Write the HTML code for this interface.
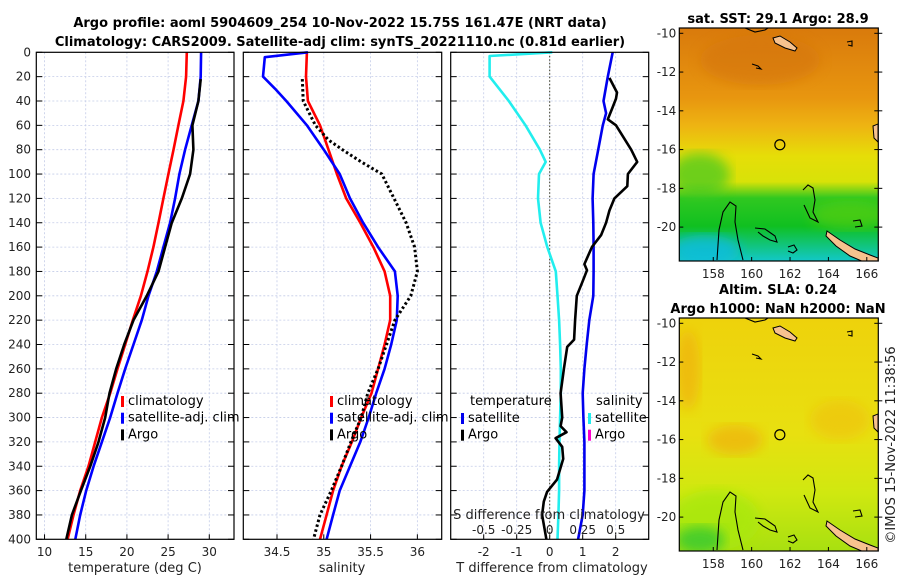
<!DOCTYPE html>
<html><head><meta charset="utf-8"><style>
html,body{margin:0;padding:0;background:#fff;}
svg{display:block;font-family:"DejaVu Sans","Liberation Sans",sans-serif;}
</style></head><body>
<svg id="fig" width="900" height="580" viewBox="0 0 900 580" xmlns="http://www.w3.org/2000/svg">
<defs>
<linearGradient id="sstGrad" x1="0" y1="0" x2="0" y2="1">
<stop offset="0" stop-color="#d97a0c"/><stop offset="0.3" stop-color="#e8960f"/><stop offset="0.42" stop-color="#eeb412"/>
<stop offset="0.55" stop-color="#e6de08"/><stop offset="0.66" stop-color="#d8e208"/><stop offset="0.73" stop-color="#30c820"/>
<stop offset="0.85" stop-color="#10c020"/><stop offset="1" stop-color="#12c8c8"/></linearGradient>
<linearGradient id="slaGrad" x1="0" y1="0" x2="0" y2="1">
<stop offset="0" stop-color="#eed20c"/><stop offset="0.5" stop-color="#e8e010"/><stop offset="0.75" stop-color="#d0e810"/><stop offset="1" stop-color="#a8e010"/></linearGradient>
<filter id="blur6"><feGaussianBlur stdDeviation="6"/></filter>
<clipPath id="c1"><rect x="679" y="28" width="199" height="233"/></clipPath>
<clipPath id="c2"><rect x="679" y="318" width="199" height="233"/></clipPath>
</defs>
<g id="panels"></g>
<text x="340" y="27" font-size="13" font-weight="bold" text-anchor="middle">Argo profile: aoml 5904609_254 10-Nov-2022 15.75S 161.47E (NRT data)</text>
<text x="340" y="46" font-size="13" font-weight="bold" text-anchor="middle">Climatology: CARS2009. Satellite-adj clim: synTS_20221110.nc (0.81d earlier)</text>
<g id="maps"></g>
<text x="778" y="23" font-size="13" font-weight="bold" text-anchor="middle">sat. SST: 29.1 Argo: 28.9</text>
<text x="778" y="294" font-size="13" font-weight="bold" text-anchor="middle">Altim. SLA: 0.24</text>
<text x="778" y="313" font-size="13" font-weight="bold" text-anchor="middle">Argo h1000: NaN h2000: NaN</text>
<text transform="translate(895,445) rotate(-90)" font-size="13" text-anchor="middle" fill="#222">©IMOS 15-Nov-2022 11:38:56</text>
</svg>
<script>
// ---------- data ----------
const depthStd = [0,20,40,60,80,100,120,140,160,180,200,220,240,260,280,300,320,340,360,380,400];
const tempClim = [27.27,27.18,26.86,26.25,25.65,25.04,24.43,23.83,23.22,22.5,21.7,20.72,19.79,18.86,17.97,16.96,16.15,15.34,14.33,13.52,12.8];
const tempSat = [29.0,28.96,28.68,27.87,27.06,26.37,25.85,25.24,24.43,23.63,22.62,21.81,20.8,19.79,18.86,17.97,16.96,15.95,15.06,14.33,13.73];
const argoDepth = [22,40,60,80,100,120,140,160,180,200,220,240,260,280,300,320,340,360,380,400];
const tempArgo = [28.96,28.68,27.95,28.07,27.67,26.66,25.45,24.64,23.83,22.41,20.8,19.67,18.7,17.89,17.36,16.55,15.55,14.41,13.32,12.64];
const salClim = [34.82,34.81,34.83,34.96,35.05,35.14,35.24,35.39,35.53,35.65,35.71,35.71,35.65,35.58,35.51,35.40,35.30,35.19,35.10,35.03,34.96];
const salSatDepth = [0,4,20,30,40,60,80,100,120,140,160,180,200,220,240,260,280,300,320,340,360,380,400];
const salSat = [34.83,34.37,34.35,34.48,34.6,34.82,35.0,35.17,35.28,35.42,35.58,35.76,35.79,35.78,35.72,35.65,35.56,35.48,35.39,35.28,35.17,35.1,35.03];
const salArgoDepth = [22,40,60,72,80,90,100,120,140,160,180,200,220,240,260,280,300,320,340,360,380,400];
const salArgo = [34.77,34.78,34.91,35.05,35.2,35.4,35.62,35.75,35.88,35.97,36.0,35.93,35.76,35.67,35.58,35.47,35.4,35.29,35.19,35.08,34.96,34.89];
const sDiffDepth = [0,3,20,40,60,80,90,100,120,140,160,180,200,220,240,260,280,300,320,340,360,380,400];
const sDiffSat = [0.02,-0.455,-0.455,-0.31,-0.183,-0.074,-0.03,-0.081,-0.089,-0.069,-0.018,0.046,0.059,0.071,0.079,0.084,0.084,0.079,0.074,0.071,0.071,0.066,0.059];
const tDiffSatDepth = [0,20,40,50,60,80,100,120,140,160,180,200,220,240,260,280,300,320,340,360,380,400];
const tDiffSat = [1.91,1.76,1.63,1.71,1.61,1.47,1.33,1.30,1.32,1.33,1.33,1.32,1.20,1.12,1.05,1.0,1.02,1.05,1.05,1.05,1.0,0.86];
const tDiffArgoDepth = [21,33,38,45,55,60,80,90,100,110,120,130,140,150,160,174,179,188,200,220,236,242,260,280,300,307,312,317,324,334,351,361,369,380,400];
const tDiffArgo = [1.81,2.04,2.01,1.91,1.76,2.01,2.47,2.65,2.37,2.35,1.96,1.81,1.71,1.56,1.28,1.05,1.13,1.0,0.82,0.77,0.74,0.53,0.43,0.33,0.38,0.33,0.51,0.18,0.38,0.41,0.22,-0.08,-0.18,-0.23,-0.10];
const depthTicks = [0,20,40,60,80,100,120,140,160,180,200,220,240,260,280,300,320,340,360,380,400];
const tempTicks = [10,15,20,25,30];
const salTicks = [34.5,35,35.5,36];
const tDiffTicks = [-2,-1,0,1,2];
const sDiffTicks = [-0.5,-0.25,0,0.25,0.5];
const sDiffTickLabels = ["-0.5","-0.25","0","0.25","0.5"];
const latTicks = [-10,-12,-14,-16,-18,-20];
const lonTicks = [158,160,162,164,166];

// ---------- helpers ----------
const NS = "http://www.w3.org/2000/svg";
function mk(tag, attrs, parent){const e=document.createElementNS(NS,tag);for(const k in attrs)e.setAttribute(k,attrs[k]);parent.appendChild(e);return e;}
const Y0=52.3, Y1=539.3;
const yD = d => Y0 + d*(Y1-Y0)/400;
const panels = [
 {x0:36.3,x1:234,min:9,max:33,name:'temperature-panel'},
 {x0:243.3,x1:441.7,min:34.14,max:36.26,name:'salinity-panel'},
 {x0:450.7,x1:648.7,min:-3,max:3,name:'difference-panel'}];
function xS(p,v){return p.x0+(v-p.min)*(p.x1-p.x0)/(p.max-p.min);}
const root = document.getElementById('panels');

function line(g,p,vals,depths,color,w,dash,name){
  const pts = vals.map((v,i)=>xS(p,v).toFixed(1)+','+yD(depths[i]).toFixed(1)).join(' ');
  const pl = mk('polyline',{points:pts,fill:'none',stroke:color,'stroke-width':w,'stroke-linejoin':'round'},g);
  if(dash) pl.setAttribute('stroke-dasharray',dash);
  
  
}
function legend(g,x,y,items){
  items.forEach((it,i)=>{
    const yy=y+i*16.7;
    const m=mk('rect',{x:x,y:yy-9,width:3,height:11,fill:it[1]},g);
    
    
    const t=mk('text',{x:x+7,y:yy,'font-size':13},g);t.textContent=it[0];
    
    
  });
}

panels.forEach((p,pi)=>{
  const g = mk('g',{},root);
  
  
  mk('rect',{x:p.x0,y:Y0,width:p.x1-p.x0,height:Y1-Y0,fill:'#fff'},g);
  const grid = mk('g',{stroke:'#c4cce8','stroke-width':0.8,'stroke-dasharray':'2,2'},g);
  depthTicks.forEach(d=>{ if(d>0&&d<400) mk('line',{x1:p.x0,x2:p.x1,y1:yD(d),y2:yD(d)},grid); });
  const ticks = pi==0?tempTicks:pi==1?salTicks:tDiffTicks;
  ticks.forEach(v=>{ mk('line',{x1:xS(p,v),x2:xS(p,v),y1:Y0,y2:Y1},grid); });
  const tk = mk('g',{stroke:'#000','stroke-width':1},g);
  depthTicks.forEach(d=>{ mk('line',{x1:p.x0,x2:p.x0+6,y1:yD(d),y2:yD(d)},tk); mk('line',{x1:p.x1-6,x2:p.x1,y1:yD(d),y2:yD(d)},tk); });
  ticks.forEach(v=>{ mk('line',{x1:xS(p,v),x2:xS(p,v),y1:Y1,y2:Y1-5},tk); });
  ticks.forEach(v=>{ const t=mk('text',{x:xS(p,v),y:556,'font-size':12,'text-anchor':'middle',fill:'#222'},g); t.textContent=String(v);
      });
  if(pi==0){
    depthTicks.forEach(d=>{ const t=mk('text',{x:31,y:yD(d)+4,'font-size':12,'text-anchor':'end',fill:'#222'},g); t.textContent=String(d);
        });
    line(g,p,tempClim,depthStd,'#ff0000',2.6,null,'temp-climatology-line');
    line(g,p,tempSat,depthStd,'#0000ff',2.6,null,'temp-satellite-line');
    line(g,p,tempArgo,argoDepth,'#000',2.6,null,'temp-argo-line');
    legend(g,121,405,[['climatology','#ff0000'],['satellite-adj. clim','#0000ff'],['Argo','#000']]);
    const t=mk('text',{x:135,y:572,'font-size':13,'text-anchor':'middle',fill:'#222'},g); t.textContent='temperature (deg C)';
     
  } else if(pi==1){
    line(g,p,salClim,depthStd,'#ff0000',2.6,null,'sal-climatology-line');
    line(g,p,salSat,salSatDepth,'#0000ff',2.6,null,'sal-satellite-line');
    line(g,p,salArgo,salArgoDepth,'#000',3,'2.5,2.5','sal-argo-line');
    legend(g,330,405,[['climatology','#ff0000'],['satellite-adj. clim','#0000ff'],['Argo','#000']]);
    const t=mk('text',{x:342,y:572,'font-size':13,'text-anchor':'middle',fill:'#222'},g); t.textContent='salinity';
     
  } else {
    mk('line',{x1:xS(p,0),x2:xS(p,0),y1:Y0,y2:Y1,stroke:'#3a3a20','stroke-width':1,'stroke-dasharray':'1.5,2'},g);
    line(g,p,sDiffSat.map(v=>v*4),sDiffDepth,'#22eeee',2.6,null,'sal-diff-satellite-line');
    line(g,p,tDiffSat,tDiffSatDepth,'#0000ee',2.6,null,'temp-diff-satellite-line');
    line(g,p,tDiffArgo,tDiffArgoDepth,'#000',2.6,null,'temp-diff-argo-line');
    const tt=mk('text',{x:470,y:405,'font-size':13},g); tt.textContent='temperature';
     
    legend(g,461,422,[['satellite','#0000ee'],['Argo','#000']]);
    const ts=mk('text',{x:596,y:405,'font-size':13},g); ts.textContent='salinity';
     
    legend(g,588,422,[['satellite','#22eeee'],['Argo','#ff00cc']]);
    const s1=mk('text',{x:549,y:519,'font-size':13,'text-anchor':'middle',fill:'#222'},g); s1.textContent='S difference from climatology';
     
    sDiffTicks.forEach((v,i)=>{ const t=mk('text',{x:xS(p,v*4),y:534,'font-size':12,'text-anchor':'middle',fill:'#222'},g); t.textContent=sDiffTickLabels[i];
        });
    const t=mk('text',{x:552,y:572,'font-size':13,'text-anchor':'middle',fill:'#222'},g); t.textContent='T difference from climatology';
     
  }
  const fr=mk('rect',{x:p.x0,y:Y0,width:p.x1-p.x0,height:Y1-Y0,fill:'none',stroke:'#000','stroke-width':1.2},g);
   
});

// ---------- maps ----------
const maps = document.getElementById('maps');
const MX0=679.3, MX1=878.3, LON0=156.23, LON1=166.6, LATSC=19.38;
const lonX = l => MX0+(l-LON0)*(MX1-MX0)/(LON1-LON0);
function coast(g, dy){
  const land = [
   "773,38 780,36 790,42 797,48 795,51 785,48 775,43",
   "827,231 840,240 855,249 870,255 878,258 878,262 864,262 850,256 836,246 826,236",
   "873,126 878,124 878,142 874,138"];
  land.forEach(s=>{ const q=s.split(' ').map(pt=>{const [a,b]=pt.split(',');return a+','+(+b+dy);}).join(' ');
    mk('polygon',{points:q,fill:'#f7c28e',stroke:'#000','stroke-width':1},g); });
  const contours = [
   "717,260 719,230 723,212 730,202 736,206 735,222 738,240 743,260",
   "803,190 808,185 813,188 815,200 813,212 818,222 810,218 804,205",
   "755,228 765,229 775,236 777,242 770,240 763,236 758,232",
   "788,247 794,245 797,250 793,253 788,251",
   "853,221 860,220 862,226 855,227",
   "752,64 758,66 761,69 756,68",
   "847,42 852,41 852,46 848,45",
   "745,28 755,32 765,30 768,28"];
  contours.forEach(s=>{ const q=s.split(' ').map(pt=>{const [a,b]=pt.split(',');return a+','+(+b+dy);}).join(' ');
    mk('polyline',{points:q,fill:'none',stroke:'#000','stroke-width':1.1},g); });
}
function mapAxes(g,top){
  const bot=top+233;
  const lat0y = top+5.3;
  mk('rect',{x:MX0,y:top,width:MX1-MX0,height:233,fill:'none',stroke:'#000','stroke-width':1.2},g);
  latTicks.forEach(l=>{ const y=lat0y+(-10-l)*LATSC;
    mk('line',{x1:MX0,x2:MX0+4,y1:y,y2:y,stroke:'#000'},g); mk('line',{x1:MX1-4,x2:MX1+4,y1:y,y2:y,stroke:'#000'},g);
    const t=mk('text',{x:MX0-3,y:y+4,'font-size':12,'text-anchor':'end',fill:'#222'},g); t.textContent=String(l);
      });
  lonTicks.forEach(l=>{ const x=lonX(l);
    mk('line',{x1:x,x2:x,y1:bot,y2:bot-4,stroke:'#000'},g);
    const t=mk('text',{x:x,y:bot+17,'font-size':12,'text-anchor':'middle',fill:'#222'},g); t.textContent=String(l);
      });
  mk('circle',{cx:lonX(161.47),cy:lat0y+5.75*LATSC,r:5,fill:'none',stroke:'#000','stroke-width':1.2},g);
}
// SST map
const m1 = mk('g',{},maps);
 
const m1c = mk('g',{'clip-path':'url(#c1)'},m1);
mk('rect',{x:679,y:28,width:200,height:233,fill:'url(#sstGrad)'},m1c);
mk('ellipse',{cx:700,cy:175,rx:30,ry:22,fill:'#40c820',opacity:0.7,filter:'url(#blur6)'},m1c);
mk('ellipse',{cx:850,cy:215,rx:40,ry:14,fill:'#60d010',opacity:0.6,filter:'url(#blur6)'},m1c);
mk('ellipse',{cx:760,cy:60,rx:60,ry:25,fill:'#d47408',opacity:0.6,filter:'url(#blur6)'},m1c);
mk('ellipse',{cx:705,cy:250,rx:35,ry:15,fill:'#10bce0',opacity:0.8,filter:'url(#blur6)'},m1c);
coast(m1c,0);
mapAxes(m1,28);
// SLA map
const m2 = mk('g',{},maps);
 
const m2c = mk('g',{'clip-path':'url(#c2)'},m2);
mk('rect',{x:679,y:318,width:200,height:233,fill:'url(#slaGrad)'},m2c);
mk('ellipse',{cx:688,cy:370,rx:12,ry:40,fill:'#f0b010',opacity:0.7,filter:'url(#blur6)'},m2c);
mk('ellipse',{cx:735,cy:440,rx:28,ry:15,fill:'#f0b010',opacity:0.7,filter:'url(#blur6)'},m2c);
mk('ellipse',{cx:840,cy:420,rx:30,ry:20,fill:'#f0c010',opacity:0.6,filter:'url(#blur6)'},m2c);
mk('ellipse',{cx:715,cy:520,rx:45,ry:30,fill:'#a8e810',opacity:0.8,filter:'url(#blur6)'},m2c);
mk('ellipse',{cx:700,cy:540,rx:25,ry:14,fill:'#30c830',opacity:0.8,filter:'url(#blur6)'},m2c);
coast(m2c,290);
mapAxes(m2,318);
</script>
</body></html>
